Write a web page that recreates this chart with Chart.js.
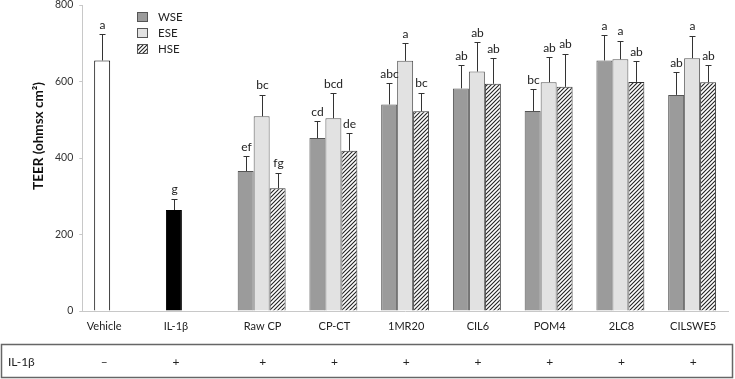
<!DOCTYPE html>
<html>
<head>
<meta charset="utf-8">
<script src="https://cdn.jsdelivr.net/npm/chart.js@4/dist/chart.umd.min.js"></script>
<style>
html,body{margin:0;padding:0;background:#fff;}
#c{display:block;}
</style>
</head>
<body>
<canvas id="c" width="735" height="379"></canvas>
<script>
const categories = ['Vehicle','IL-1β','Raw CP','CP-CT','1MR20','CIL6','POM4','2LC8','CILSWE5'];
const seriesNames = ['WSE','ESE','HSE'];
const wse    = [655, 264, 366, 452, 540, 582, 523, 655, 565];
const wseErr = [68, 30, 40, 45, 57, 60, 57, 66, 59];
const ese    = [null, null, 509, 504, 654, 626, 598, 658, 661];
const eseErr = [null, null, 57, 65, 46, 78, 67, 49, 59];
const hse    = [null, null, 321, 419, 522, 594, 586, 599, 598];
const hseErr = [null, null, 41, 47, 49, 67, 87, 55, 46];
const wseLetters = ['a','g','ef','cd','abc','ab','bc','a','ab'];
const eseLetters = [null,null,'bc','bcd','a','ab','ab','a','a'];
const hseLetters = [null,null,'fg','de','bc','ab','ab','ab','ab'];
const il1bRow = ['–','+','+','+','+','+','+','+','+'];
const yTicks = [0,200,400,600,800];
const yTitle = 'TEER (ohmsx cm²)';

const FONT = 'Lato, "Open Sans", sans-serif';

function hatch(){
  const s = 4;
  const c = document.createElement('canvas');
  c.width = s; c.height = s;
  const g = c.getContext('2d');
  g.fillStyle = '#fff'; g.fillRect(0,0,s,s);
  g.strokeStyle = '#222'; g.lineWidth = 1.1;
  g.beginPath();
  g.moveTo(-1, s+1); g.lineTo(s+1, -1);
  g.moveTo(-1, 1); g.lineTo(1, -1);
  g.moveTo(s-1, s+1); g.lineTo(s+1, s-1);
  g.stroke();
  return document.getElementById('c').getContext('2d').createPattern(c,'repeat');
}
const hatchFill = hatch();

const WSE_COL = '#9b9b9b', ESE_COL = '#e2e2e2';
const errs = [wseErr, eseErr, hseErr];
const letters = [wseLetters, eseLetters, hseLetters];
const legendFills = [WSE_COL, ESE_COL, hatchFill];

const overlay = {
  id: 'overlay',
  afterDatasetsDraw(chart){
    const ctx = chart.ctx, y = chart.scales.y;
    ctx.save();
    chart.data.datasets.forEach((ds, di) => {
      const meta = chart.getDatasetMeta(di);
      meta.data.forEach((bar, i) => {
        const v = ds.data[i];
        if (v == null) return;
        const e = errs[di][i];
        const base = y.getPixelForValue(v);
        const top = y.getPixelForValue(v + e);
        const x = Math.round(bar.x) + 0.5;
        const ty = Math.round(top) + 0.5;
        ctx.strokeStyle = '#333'; ctx.lineWidth = 1;
        ctx.beginPath();
        ctx.moveTo(x, base); ctx.lineTo(x, ty);
        ctx.moveTo(x-3, ty); ctx.lineTo(x+3, ty);
        ctx.stroke();
        const L = letters[di][i];
        if (L){
          ctx.fillStyle = '#222';
          ctx.font = '12px ' + FONT;
          ctx.textAlign = 'center'; ctx.textBaseline = 'bottom';
          ctx.fillText(L, x, top - 3);
        }
      });
    });
    const m0 = chart.getDatasetMeta(0), m1 = chart.getDatasetMeta(1);
    const xs = categories.map((c, i) => (ese[i] == null ? m0.data[i].x + 2 : m1.data[i].x + 1));
    ctx.fillStyle = '#222';
    ctx.font = '11px ' + FONT;
    ctx.textAlign = 'center'; ctx.textBaseline = 'middle';
    categories.forEach((c, i) => ctx.fillText(c, xs[i], 326));
    ctx.strokeStyle = '#666'; ctx.lineWidth = 1.5;
    ctx.strokeRect(1.5, 344.5, 731, 33);
    ctx.font = '12px ' + FONT;
    ctx.textAlign = 'left';
    ctx.fillText('IL-1β', 8, 362);
    ctx.textAlign = 'center';
    il1bRow.forEach((s, i) => ctx.fillText(s, xs[i], 362));
    ctx.font = '11.5px ' + FONT;
    ctx.textAlign = 'left'; ctx.textBaseline = 'middle';
    seriesNames.forEach((n, k) => {
      const cy = 17 + k * 16;
      ctx.fillStyle = legendFills[k];
      ctx.fillRect(137, cy - 5, 11, 10);
      ctx.strokeStyle = '#555'; ctx.lineWidth = 1;
      ctx.strokeRect(137.5, cy - 4.5, 10, 9);
      ctx.fillStyle = '#222';
      ctx.fillText(n, 158, cy);
    });
    ctx.translate(39, 136);
    ctx.rotate(-Math.PI / 2);
    ctx.font = 'bold 13.5px ' + FONT;
    ctx.fillStyle = '#111';
    ctx.textAlign = 'center'; ctx.textBaseline = 'middle';
    ctx.fillText(yTitle, 0, 0);
    ctx.restore();
  }
};

new Chart(document.getElementById('c'), {
  type: 'bar',
  data: {
    labels: categories,
    datasets: [
      { label: 'WSE', data: wse,
        backgroundColor: categories.map((c, i) => i === 0 ? '#ffffff' : (i === 1 ? '#000000' : WSE_COL)),
        borderColor: categories.map((c, i) => i < 2 ? '#000' : '#555'),
        borderWidth: 1 },
      { label: 'ESE', data: ese, backgroundColor: ESE_COL, borderColor: '#555', borderWidth: 1 },
      { label: 'HSE', data: hse, backgroundColor: hatchFill, borderColor: '#333', borderWidth: 1 }
    ]
  },
  options: {
    responsive: false,
    animation: false,
    devicePixelRatio: 1,
    layout: { padding: { left: 49, right: 7, top: 5, bottom: 60 } },
    datasets: { bar: { barPercentage: 1, categoryPercentage: 0.668 } },
    plugins: { legend: { display: false }, tooltip: { enabled: false } },
    scales: {
      x: {
        ticks: { display: false },
        grid: { display: false },
        border: { display: true, color: '#c8c8c8', width: 1 }
      },
      y: {
        min: 0, max: 800,
        afterBuildTicks: s => { s.ticks = yTicks.map(v => ({ value: v })); },
        afterFit: s => { s.paddingTop = 0; s.paddingBottom = 0; },
        ticks: { color: '#333', font: { family: FONT, size: 10.5 }, padding: 6 },
        grid: { drawOnChartArea: false, drawTicks: true, tickLength: 3, color: '#c8c8c8' },
        border: { display: true, color: '#c8c8c8', width: 1 },
        title: { display: false }
      }
    }
  },
  plugins: [overlay]
});
</script>
</body>
</html>
